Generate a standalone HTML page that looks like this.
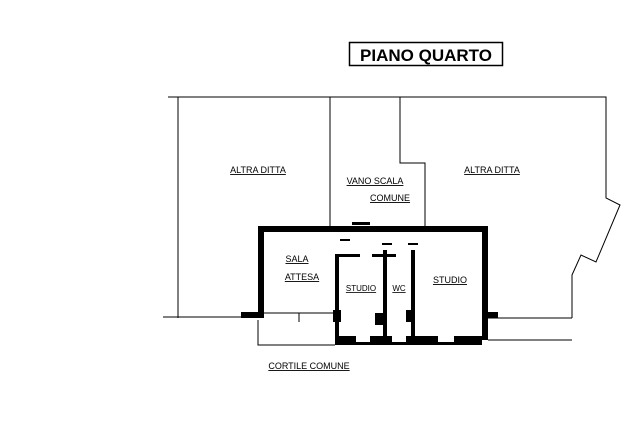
<!DOCTYPE html><html><head><style>body{margin:0;background:#fff}svg text{font-family:"Liberation Sans",sans-serif;font-size:9px;text-anchor:middle;fill:#000;text-decoration:underline}</style></head><body>
<svg width="636" height="417" viewBox="0 0 636 417" xmlns="http://www.w3.org/2000/svg">
<rect x="349.5" y="42.5" width="153" height="23" fill="none" stroke="#000" stroke-width="1.5"/>
<text x="426" y="61" style="font-size:17px;text-decoration:none;font-weight:bold">PIANO QUARTO</text>
<g fill="none" stroke="#000" stroke-width="1">
<path d="M168 97H606V198L620 205L596 262L581 255L572 275V318"/>
<path d="M178 97V318"/>
<path d="M330 97V228"/>
<path d="M400 97V163H425V228"/>
<path d="M163 317H258"/>
<path d="M486 318H572"/>
<path d="M264 313H335"/>
<path d="M299 313V322"/>
<path d="M258 320V345H335M488 340H572"/>
</g>
<g fill="#000">
<rect x="258" y="226" width="230" height="6"/>
<rect x="258" y="226" width="6" height="92"/>
<rect x="482" y="226" width="6" height="114"/>
<rect x="335" y="336" width="147" height="9"/>
<rect x="335" y="254" width="4" height="82"/>
<rect x="383" y="250" width="4" height="90"/>
<rect x="411" y="250" width="4" height="90"/>
<rect x="339" y="254" width="21" height="3"/>
<rect x="372" y="254" width="24" height="3"/>
<rect x="333" y="310" width="8" height="12"/>
<rect x="375" y="313" width="8" height="12"/>
<rect x="406" y="310" width="6" height="12"/>
<rect x="241" y="312" width="17" height="6"/>
<rect x="488" y="312" width="10" height="6"/>
<rect x="340" y="239" width="10" height="2"/>
<rect x="382" y="243" width="10" height="2"/>
<rect x="408" y="243" width="10" height="2"/>
<rect x="352" y="222" width="18" height="3"/>
</g>
<g fill="#fff"><rect x="356" y="336" width="14" height="6"/><rect x="392" y="336" width="14" height="6"/><rect x="438" y="336" width="16" height="6"/></g>
<text x="258" y="173">ALTRA DITTA</text>
<text x="375" y="184">VANO SCALA</text>
<text x="390" y="201">COMUNE</text>
<text x="492" y="173">ALTRA DITTA</text>
<text x="297" y="262">SALA</text>
<text x="302" y="280">ATTESA</text>
<text x="361" y="291" style="font-size:8px">STUDIO</text>
<text x="399" y="291" style="font-size:8px">WC</text>
<text x="450" y="283">STUDIO</text>
<text x="309" y="369">CORTILE COMUNE</text>
</svg></body></html>
